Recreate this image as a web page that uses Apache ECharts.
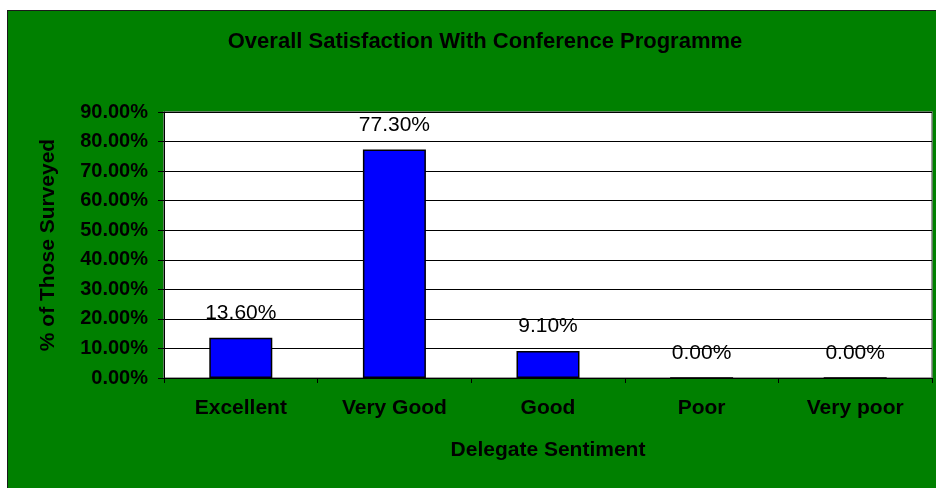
<!DOCTYPE html>
<html>
<head>
<meta charset="utf-8">
<script src="https://cdn.jsdelivr.net/npm/echarts@6/dist/echarts.min.js"></script>
<style>
  html, body { margin: 0; padding: 0; background: #fff; }
  #chart {
    position: absolute;
    left: 7px;
    top: 10px;
    width: 929px;
    height: 478px;
    border-left: 1px solid #1a1a1a;
    border-top: 1px solid #1a1a1a;
    box-sizing: border-box;
  }
</style>
</head>
<body>
<div id="chart"></div>
<script>
// categories and values (percent of those surveyed)
var categories = ['Excellent', 'Very Good', 'Good', 'Poor', 'Very poor']
var satisfaction = [13.6, 77.3, 9.1, 0, 0]
var yMin = 0
var yMax = 90
var yStep = 10

var font = 'Liberation Sans, Arial, sans-serif'
var myChart = echarts.init(document.getElementById('chart'))

var option = {
  backgroundColor: '#008000',
  animation: false,
  title: {
    text: 'Overall Satisfaction With Conference Programme',
    left: 472,
    top: 15,
    textAlign: 'center',
    textStyle: {
      color: '#000',
      fontFamily: font,
      fontWeight: 'bold',
      fontSize: 22,
    },
  },
  grid: {
    left: 156,
    top: 101,
    right: 4,
    bottom: 110,
    show: true,
    backgroundColor: '#fff',
    borderColor: '#808080',
    borderWidth: 1.5,
  },
  xAxis: {
    type: 'category',
    data: categories,
    name: 'Delegate Sentiment',
    nameLocation: 'middle',
    nameGap: 62,
    nameTextStyle: {
      color: '#000',
      fontFamily: font,
      fontWeight: 'bold',
      fontSize: 21,
    },
    axisLine: { lineStyle: { color: '#000', width: 1 } },
    axisTick: { show: true, length: 5, lineStyle: { color: '#000' } },
    axisLabel: {
      color: '#000',
      fontFamily: font,
      fontWeight: 'bold',
      fontSize: 21,
      margin: 20,
    },
  },
  yAxis: {
    type: 'value',
    min: yMin,
    max: yMax,
    interval: yStep,
    name: '% of Those Surveyed',
    nameLocation: 'middle',
    nameGap: 105,
    nameTextStyle: {
      color: '#000',
      fontFamily: font,
      fontWeight: 'bold',
      fontSize: 21,
    },
    axisLine: { show: true, lineStyle: { color: '#000', width: 1 } },
    axisTick: { show: true, length: 6, lineStyle: { color: '#000' } },
    splitLine: { show: true, lineStyle: { color: '#000', width: 1 } },
    axisLabel: {
      color: '#000',
      fontFamily: font,
      fontWeight: 'bold',
      fontSize: 20,
      margin: 16,
      formatter: function (v) { return v.toFixed(2) + '%' },
    },
  },
  series: [
    {
      type: 'bar',
      data: satisfaction,
      barWidth: 63,
      itemStyle: {
        color: '#0000ff',
        borderColor: '#000',
        borderWidth: 1.5,
      },
      label: {
        show: true,
        position: 'top',
        distance: 14,
        color: '#000',
        fontFamily: font,
        fontSize: 21,
        formatter: function (p) { return p.value.toFixed(2) + '%' },
      },
    },
  ],
}
myChart.setOption(option)
</script>
</body>
</html>
